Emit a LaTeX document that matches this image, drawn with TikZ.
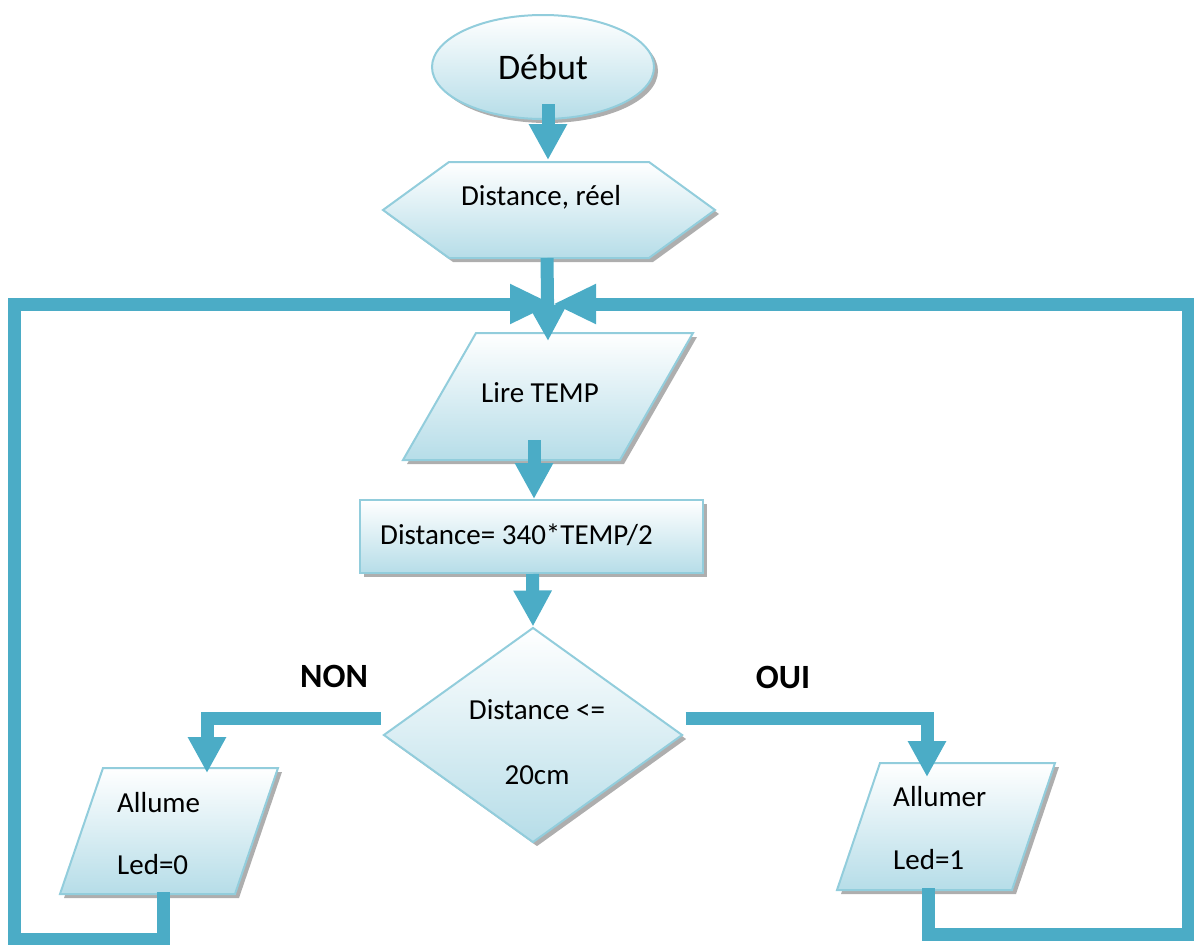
\documentclass[tikz,border=0pt]{standalone}
\usepackage{fontspec}
\setmainfont{Carlito}
\usetikzlibrary{shapes.geometric,arrows.meta,shadows,calc}
\definecolor{flowblue}{HTML}{4BACC6}
\definecolor{edgeblue}{HTML}{92CDDC}
\definecolor{fillblue}{HTML}{B6DDE8}
\tikzset{
  shapefill/.style={draw=edgeblue, line width=2pt, top color=white, bottom color=fillblue,
    drop shadow={shadow xshift=4pt, shadow yshift=-4pt, fill=black!70, opacity=0.45}},
  slot/.style={inner sep=0pt, outer sep=0pt},
  txt/.style={font=\fontsize{29}{34}\selectfont, inner sep=0pt},
  flowarrow/.style={draw=flowblue, line width=13pt, -{Triangle[length=36pt,width=36pt]}},
  backline/.style={draw=flowblue, line width=13pt, -{Triangle[length=43pt,width=37pt]}},
  branchtag/.style={font=\fontsize{34}{40}\selectfont\bfseries, inner sep=0pt},
}
\begin{document}
\begin{tikzpicture}[x=1pt,y=-1pt]
\useasboundingbox (0,0) rectangle (1194,945);

% start
\node[shape=ellipse, shapefill, minimum width=222pt, minimum height=104pt, inner sep=0pt,
      font=\fontsize{36}{40}\selectfont] (debut) at (543,67) {Début};

% declaration (hexagon)
\node[slot, minimum width=332pt, minimum height=96pt] (input) at (549,210) {};
\path[shapefill] (input.west) -- ($(input.north west)+(66,0)$) -- ($(input.north east)+(-66,0)$)
  -- (input.east) -- ($(input.south east)+(-66,0)$) -- ($(input.south west)+(66,0)$) -- cycle;
\node[txt] (input-t) at (541,197) {Distance, réel};

% read
\node[slot, minimum width=290pt, minimum height=127pt] (read) at (548,396.5) {};
\path[shapefill] ($(read.north west)+(73,0)$) -- (read.north east)
  -- ($(read.south east)+(-73,0)$) -- (read.south west) -- cycle;
\node[txt] (read-t) at (540,393) {Lire TEMP};

% computation
\node[shape=rectangle, shapefill, minimum width=343pt, minimum height=73pt, inner sep=0pt]
  (calc) at (531.5,536.5) {};
\node[txt, anchor=west] (calc-t) at (380,535) {Distance= 340*TEMP/2};

% test
\node[shape=diamond, shapefill, minimum width=299pt, minimum height=215pt, inner sep=0pt]
  (test) at (533,735) {};
\node[txt, align=center, font=\fontsize{29}{65}\selectfont] (test-t) at (537,742) {Distance <=\\20cm};

% outputs
\node[slot, minimum width=218pt, minimum height=126pt] (allume) at (169,831) {};
\path[shapefill] ($(allume.north west)+(43,0)$) -- (allume.north east)
  -- ($(allume.south east)+(-43,0)$) -- (allume.south west) -- cycle;
\node[txt, align=left, anchor=west, font=\fontsize{29}{62}\selectfont] (allume-t) at (117,834) {Allume\\Led=0};

\node[slot, minimum width=218pt, minimum height=127pt] (allumer) at (946,826.5) {};
\path[shapefill] ($(allumer.north west)+(43,0)$) -- (allumer.north east)
  -- ($(allumer.south east)+(-43,0)$) -- (allumer.south west) -- cycle;
\node[txt, align=left, anchor=west, font=\fontsize{29}{63}\selectfont] (allumer-t) at (893,828) {Allumer\\Led=1};

% branch labels
\node[branchtag] (non) at (334,676) {NON};
\node[branchtag] (oui) at (783,677) {OUI};

% connectors
\coordinate (merge) at (553,304);
\coordinate (lcorner) at (14,939);
\coordinate (rcorner) at (1188,934);
\coordinate (lstart) at ($(allume.south)+(-6,-2)$);
\coordinate (rstart) at ($(allumer.south)+(-18,-2)$);

\draw[flowarrow] ($(debut.south)+(5,-16)$) -- ($(input.north)+(-1,-2)$);
\draw[flowarrow] ($(input.south)+(-2,0)$) -- ($(read.north)+(0,8)$);
\draw[flowarrow] ($(read.south)+(-14,-20)$) -- ($(calc.north)+(2.5,0)$);
\draw[flowarrow] ($(calc.south)+(1,0)$) -- (test.north);
\draw[flowarrow] ($(test.west)+(-2,-17)$) -| ($(allume.north)+(38,5)$);
\draw[flowarrow] ($(test.east)+(2,-17)$) -| ($(allumer.north)+(-19,14)$);

\draw[backline] (lstart) |- (lcorner) -- (lcorner |- merge) -- (merge);
\draw[backline] (rstart) |- (rcorner) -- (rcorner |- merge) -- (merge);
\end{tikzpicture}
\end{document}
